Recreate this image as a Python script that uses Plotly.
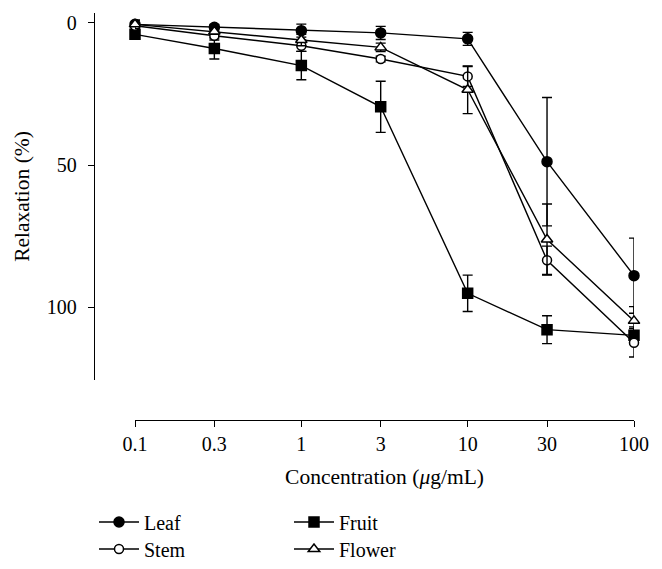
import plotly.graph_objects as go

W, H = 662, 569

concentrations = [0.1, 0.3, 1, 3, 10, 30, 100]
tick_labels = ["0.1", "0.3", "1", "3", "10", "30", "100"]

leaf = [0.5, 1.5, 2.7, 3.5, 5.6, 48.8, 88.9]
leaf_err = [1.5, 1.0, 2.3, 2.3, 2.3, 22.6, 13.2]
stem = [1.0, 4.5, 8.0, 12.7, 18.8, 83.5, 112.5]
stem_err = [1.0, 1.5, 2.0, 1.0, 3.5, 5.0, 5.0]
flower = [0.5, 3.0, 6.0, 8.6, 23.5, 76.2, 104.8]
flower_err = [1.5, 1.0, 2.0, 1.5, 8.4, 12.5, 5.0]
fruit = [4.0, 9.0, 15.0, 29.5, 95.1, 107.9, 109.9]
fruit_err = [1.0, 3.7, 5.0, 9.0, 6.4, 4.9, 3.0]

FONT = "Liberation Serif"
OFF = 8  # page body margin

def px_x(p):
    return (p - OFF) / W

def px_y(p):
    return 1 - (p - OFF) / H

# name, values, errors, symbol, fill, legend id, size
series = [
    ("Leaf", leaf, leaf_err, "circle", "black", "legend", 10),
    ("Fruit", fruit, fruit_err, "square", "black", "legend3", 10),
    ("Stem", stem, stem_err, "circle", "white", "legend2", 9),
    ("Flower", flower, flower_err, "triangle-up", "white", "legend4", 10),
]

fig = go.Figure()
for name, vals, errs, sym, fill, leg, size in series:
    fig.add_trace(go.Scatter(
        x=concentrations, y=vals, name=name, mode="lines+markers",
        line=dict(color="black", width=1.4),
        marker=dict(symbol=sym, size=size, color=fill,
                    line=dict(color="black", width=1.5)),
        error_y=dict(type="data", array=errs, visible=True, color="black",
                     thickness=1.4, width=5),
        cliponaxis=False, legend=leg,
    ))

leg_common = dict(font=dict(family=FONT, size=20, color="black"),
                  bgcolor="rgba(0,0,0,0)", xanchor="left", yanchor="middle",
                  itemwidth=40)

fig.update_layout(
    width=W, height=H,
    margin=dict(l=0, r=0, t=0, b=0),
    paper_bgcolor="white", plot_bgcolor="white",
    font=dict(family=FONT, size=20, color="black"),
    xaxis=dict(
        type="log", range=[-1, 2],
        domain=[px_x(135), px_x(634)],
        anchor="free", position=px_y(420), automargin=False,
        tickmode="array", tickvals=concentrations, ticktext=tick_labels,
        ticks="outside", ticklen=6, tickwidth=1.4, tickcolor="black",
        showline=True, linecolor="black", linewidth=1.4,
        showgrid=False, zeroline=False,
        tickfont=dict(family=FONT, size=20),
        title=dict(text="Concentration (<i>μ</i>g/mL)", font=dict(family=FONT, size=21.5), standoff=14),
    ),
    yaxis=dict(
        range=[125.6, -3.5],
        domain=[px_y(380), px_y(13)],
        anchor="free", position=px_x(94), automargin=False,
        tickvals=[0, 50, 100],
        ticks="outside", ticklen=6, tickwidth=1.4, tickcolor="black",
        showline=True, linecolor="black", linewidth=1.4,
        showgrid=False, zeroline=False,
        ticklabelstandoff=7,
        tickfont=dict(family=FONT, size=20),
        title=dict(text="Relaxation (%)", font=dict(family=FONT, size=21.5), standoff=10),
    ),
    showlegend=True,
    legend=dict(x=px_x(94), y=px_y(522), **leg_common),
    legend2=dict(x=px_x(94), y=px_y(549), **leg_common),
    legend3=dict(x=px_x(289), y=px_y(522), **leg_common),
    legend4=dict(x=px_x(289), y=px_y(549), **leg_common),
)

fig.write_html("out.html")
